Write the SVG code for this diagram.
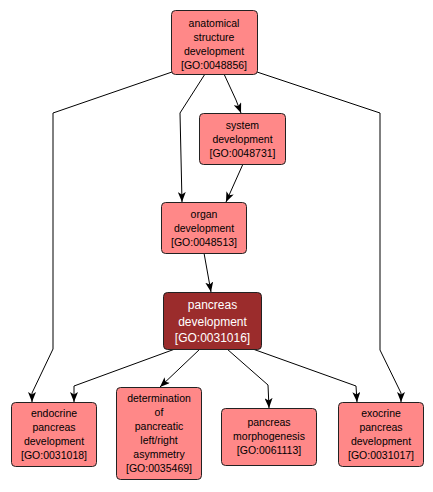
<svg xmlns="http://www.w3.org/2000/svg" width="433" height="492" viewBox="0 0 433 492">
<defs>
<marker id="arr" viewBox="0 0 10 8" refX="10" refY="4" markerWidth="10" markerHeight="8" markerUnits="userSpaceOnUse" orient="auto">
<path d="M0,0 L10,4 L0,8 L2.5,4 z" fill="#000"/>
</marker>
<style>
.n rect{fill:#ff8888;stroke:#222;stroke-width:1}
.n text{font-family:"Liberation Sans",Arial,sans-serif;font-size:10.5px;fill:#000;text-anchor:middle}
.d rect{fill:#9b2c2c;stroke:#222;stroke-width:1}
.d text{font-family:"Liberation Sans",Arial,sans-serif;font-size:12px;fill:#fff;text-anchor:middle}
#edges path{fill:none;stroke:#000;stroke-width:1;marker-end:url(#arr)}
</style>
</defs>
<rect width="433" height="492" fill="#fff"/>
<g id="edges">
<path d="M172,72 L53,113 L53,349 L32,393 L32,402"/>
<path d="M257,72 L380,113 L380,350 L401,393 L401,402"/>
<path d="M205,74 L180,113 L182,202"/>
<path d="M224,74 L236,100 L241,113"/>
<path d="M243,164 L226,202"/>
<path d="M204,253 L211,292"/>
<path d="M175,349 L74,386 L74,402"/>
<path d="M200,349 L160,387"/>
<path d="M227,349 L268,385 L269,408"/>
<path d="M250,348 L356,386 L357,402"/>
</g>
<g id="n_anat" class="n">
<rect x="171.5" y="10.5" width="86" height="64" rx="4"/>
<text x="214" y="27">anatomical</text>
<text x="214" y="41">structure</text>
<text x="214" y="55">development</text>
<text x="214" y="69">[GO:0048856]</text>
</g>
<g id="n_system" class="n">
<rect x="199.5" y="113.5" width="86" height="51" rx="4"/>
<text x="242.5" y="129">system</text>
<text x="242.5" y="143">development</text>
<text x="242.5" y="157">[GO:0048731]</text>
</g>
<g id="n_organ" class="n">
<rect x="161.5" y="202.5" width="85" height="51" rx="4"/>
<text x="204" y="218">organ</text>
<text x="204" y="232">development</text>
<text x="204" y="246">[GO:0048513]</text>
</g>
<g id="n_pancreas" class="d">
<rect x="163.5" y="292.5" width="98" height="57" rx="4"/>
<text x="212.5" y="309">pancreas</text>
<text x="212.5" y="326">development</text>
<text x="212.5" y="342">[GO:0031016]</text>
</g>
<g id="n_endocrine" class="n">
<rect x="11.5" y="402.5" width="85" height="64" rx="4"/>
<text x="54" y="417">endocrine</text>
<text x="54" y="431">pancreas</text>
<text x="54" y="445">development</text>
<text x="54" y="459">[GO:0031018]</text>
</g>
<g id="n_determination" class="n">
<rect x="116.5" y="387.5" width="85" height="92" rx="4"/>
<text x="159" y="402">determination</text>
<text x="159" y="416">of</text>
<text x="159" y="430">pancreatic</text>
<text x="159" y="444">left/right</text>
<text x="159" y="458">asymmetry</text>
<text x="159" y="472">[GO:0035469]</text>
</g>
<g id="n_morph" class="n">
<rect x="221.5" y="408.5" width="95" height="57" rx="4"/>
<text x="269" y="426">pancreas</text>
<text x="269" y="440">morphogenesis</text>
<text x="269" y="454">[GO:0061113]</text>
</g>
<g id="n_exocrine" class="n">
<rect x="338.5" y="402.5" width="85" height="64" rx="4"/>
<text x="381" y="417">exocrine</text>
<text x="381" y="431">pancreas</text>
<text x="381" y="445">development</text>
<text x="381" y="459">[GO:0031017]</text>
</g>
</svg>
